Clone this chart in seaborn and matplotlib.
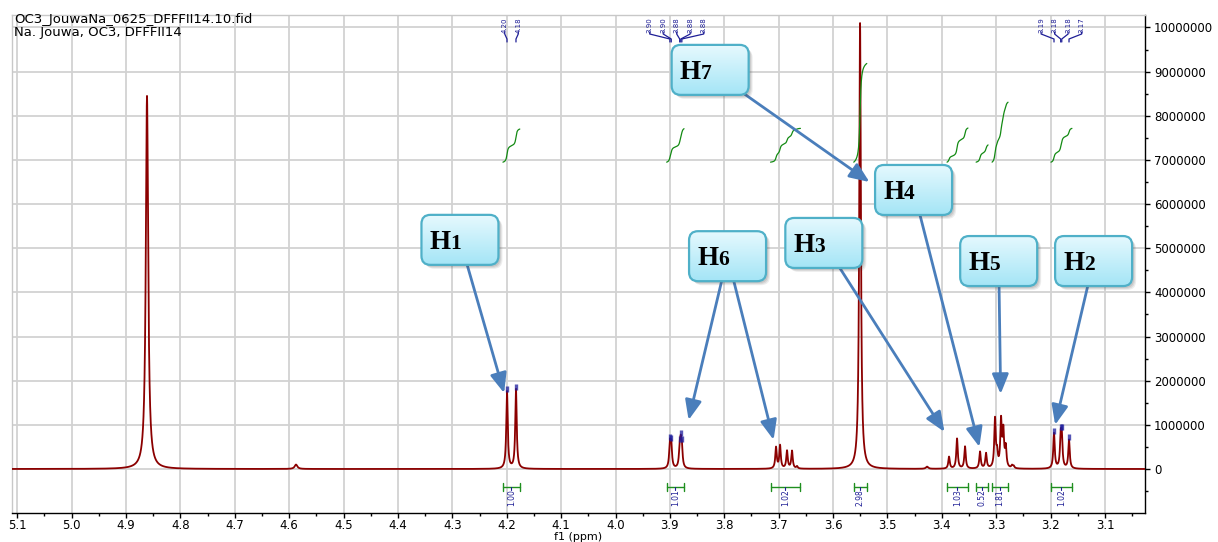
import numpy as np
import pandas as pd
import matplotlib
matplotlib.use("Agg")
import matplotlib.pyplot as plt
import matplotlib.transforms as mtransforms
from matplotlib.colors import LinearSegmentedColormap
from matplotlib.patches import FancyBboxPatch, FancyArrowPatch
from matplotlib.ticker import MultipleLocator, FuncFormatter
import seaborn as sns

# ---------------------------------------------------------------- text
sample_file = "OC3_JouwaNa_0625_DFFFII14.10.fid"
sample_info = "Na. Jouwa, OC3, DFFFII14"
x_label = "f1 (ppm)"

# ---------------------------------------------------------------- resonances
# centre (ppm), height (intensity), half width at half height (ppm)
peak_ppm = [4.8614, 4.5874,
            4.1995, 4.1830,
            3.9000, 3.8975, 3.8820, 3.8800, 3.8780,
            3.7049, 3.6975, 3.6847, 3.6755, 3.6663,
            3.5504,
            3.4273,
            3.3868, 3.3721, 3.3574,
            3.3298, 3.3188,
            3.3023, 3.2985, 3.2912, 3.2870, 3.2825, 3.2710, 3.2680,
            3.1938, 3.1815, 3.1795, 3.1662]
peak_height = [8.45e6, 0.10e6,
               1.75e6, 1.80e6,
               0.53e6, 0.50e6, 0.40e6, 0.46e6, 0.40e6,
               0.48e6, 0.52e6, 0.40e6, 0.40e6, 0.05e6,
               10.1e6,
               0.05e6,
               0.27e6, 0.68e6, 0.50e6,
               0.38e6, 0.34e6,
               1.10e6, 0.30e6, 1.05e6, 0.80e6, 0.45e6, 0.06e6, 0.05e6,
               0.80e6, 0.63e6, 0.63e6, 0.65e6]
peak_hwhm = [0.0026, 0.0030,
             0.0016, 0.0016,
             0.0016, 0.0016, 0.0016, 0.0016, 0.0016,
             0.0016, 0.0016, 0.0016, 0.0016, 0.0016,
             0.0018,
             0.0025,
             0.0016, 0.0016, 0.0016,
             0.0016, 0.0016,
             0.0016, 0.0016, 0.0016, 0.0016, 0.0016, 0.0016, 0.0016,
             0.0016, 0.0016, 0.0016, 0.0016]

# picked peaks, one list per multiplet
pick_groups = [[4.1995, 4.1830],
               [3.9000, 3.8975, 3.8820, 3.8800, 3.8780],
               [3.1938, 3.1815, 3.1795, 3.1662]]

# integration regions and normalised integrals
integral_start = [4.207, 3.906, 3.715, 3.562, 3.3905, 3.337, 3.3077, 3.1994]
integral_end = [4.176, 3.874, 3.660, 3.538, 3.352, 3.315, 3.2783, 3.1608]
integral_value = [1.00, 1.01, 1.02, 2.98, 1.03, 0.52, 1.81, 1.02]

# proton assignments: label, box centre (ppm, intensity), arrow targets
callout_text = ["H1", "H7", "H6", "H3", "H4", "H5", "H2"]
callout_ppm = [4.286, 3.826, 3.794, 3.617, 3.452, 3.2955, 3.121]
callout_int = [5.19e6, 9.04e6, 4.82e6, 5.12e6, 6.32e6, 4.71e6, 4.71e6]
callout_targets = [[(4.2048, 1.72e6)],
                   [(3.5331, 6.50e6)],
                   [(3.8656, 1.11e6), (3.7094, 0.66e6)],
                   [(3.3952, 0.84e6)],
                   [(3.3310, 0.50e6)],
                   [(3.2919, 1.70e6)],
                   [(3.1917, 1.00e6)]]

# ---------------------------------------------------------------- figure
sns.set_theme(style="whitegrid")
plt.rcParams["font.family"] = ["DejaVu Sans"]

W, H = 1218, 542
fig = plt.figure(figsize=(W / 100, H / 100), dpi=100)
ax_l, ax_r, ax_t, ax_b = 12, 1145, 15, 513
ax = fig.add_axes([ax_l / W, 1 - ax_b / H, (ax_r - ax_l) / W, (ax_b - ax_t) / H])
ax.set_facecolor("white")

XLIM = (5.1096, 3.0265)
YLIM = (-0.9966e6, 10.283e6)
xppp = (XLIM[0] - XLIM[1]) / (ax_r - ax_l)     # ppm per pixel
yppp = (YLIM[1] - YLIM[0]) / (ax_b - ax_t)     # intensity per pixel

# ---------------------------------------------------------------- spectrum
ppm = np.linspace(5.12, 3.02, 30000)
intensity = np.zeros_like(ppm)
for c, h, w in zip(peak_ppm, peak_height, peak_hwhm):
    intensity += h / (1.0 + ((ppm - c) / w) ** 2)
spectrum = pd.DataFrame({"ppm": ppm, "intensity": intensity})
sns.lineplot(data=spectrum, x="ppm", y="intensity", ax=ax, color="#8b0000",
             lw=1.3, estimator=None, sort=False, zorder=3)

# ---------------------------------------------------------------- integrals
integral_base = 6.95e6
integral_unit = 0.75e6
bar_y = -0.41e6
navy = "#1e1e96"
green = "#1f8f1f"
for a, b, val in zip(integral_start, integral_end, integral_value):
    m = (ppm <= a) & (ppm >= b)
    seg_x, seg_y = ppm[m], intensity[m]
    cum = np.cumsum(seg_y)
    cum = (cum - cum[0]) / (cum[-1] - cum[0])
    sns.lineplot(x=seg_x, y=integral_base + cum * val * integral_unit, ax=ax,
                 color="#138a13", lw=0.9, estimator=None, sort=False, zorder=3)
    # integration bar with end caps
    ax.plot([a, b], [bar_y, bar_y], color=green, lw=1.0, zorder=3)
    for e in (a, b):
        ax.plot([e, e], [bar_y - 4 * yppp, bar_y + 4 * yppp], color=green, lw=1.0, zorder=3)
    mid = 0.5 * (a + b)
    ax.plot([mid, mid], [bar_y, bar_y - 3 * yppp], color=navy, lw=0.8, zorder=3)
    ax.text(mid, bar_y - 2.5 * yppp, f"{val:.2f}", rotation=90, ha="center", va="top",
            fontsize=5.5, color=navy, zorder=4)

# ---------------------------------------------------------------- peak picking
lab_y = YLIM[1] - 10 * yppp
spacing = 13.5 * xppp
for group in pick_groups:
    n = len(group)
    centre = np.mean(group)
    tops = np.interp(group, ppm[::-1], intensity[::-1])
    ax.plot(group, tops + 2 * yppp, ls="none", marker="|", ms=4.5, mew=2.4,
            color="#1c1c9c", alpha=0.75, zorder=4)
    for i, p in enumerate(group):
        lx = centre + ((n - 1) / 2 - i) * spacing
        ax.text(lx, lab_y, f"{p:.2f}", rotation=90, ha="center", va="center",
                fontsize=5, color=navy, zorder=4, clip_on=False)
        y1 = YLIM[1] - 17 * yppp
        y2 = YLIM[1] - 19 * yppp
        y3 = YLIM[1] - 24 * yppp
        y4 = YLIM[1] - 27 * yppp
        ax.plot([lx, lx, p, p], [y1, y2, y3, y4], color=navy, lw=0.9, zorder=4)

# ---------------------------------------------------------------- callouts
box_w = 77 * xppp
box_h = 50 * yppp
cmap = LinearSegmentedColormap.from_list("callout", ["#e6f9fe", "#a4e5f6"])
grad = np.linspace(0, 1, 128).reshape(-1, 1)
arrow_col = "#4a7ebb"

for label, cx, cy, targets in zip(callout_text, callout_ppm, callout_int, callout_targets):
    for tx, ty in targets:
        arr = FancyArrowPatch((cx, cy), (tx, ty), arrowstyle="-|>,head_length=0.6,head_width=0.25",
                              mutation_scale=20, color=arrow_col, lw=2.0,
                              shrinkA=0, shrinkB=0, zorder=5)
        ax.add_patch(arr)
    x0, y0 = cx - box_w / 2, cy - box_h / 2
    style = f"round,pad=0,rounding_size={9 * xppp}"
    asp = yppp / xppp
    for off, al in ((4, 0.09), (3, 0.11), (2, 0.13)):
        sh = FancyBboxPatch((x0, y0), box_w, box_h, boxstyle=style, mutation_aspect=asp,
                            facecolor="#404040", edgecolor="none", alpha=al,
                            transform=ax.transData + mtransforms.ScaledTranslation(off / 100, -off / 100, fig.dpi_scale_trans),
                            zorder=6)
        ax.add_patch(sh)
    box = FancyBboxPatch((x0, y0), box_w, box_h, boxstyle=style, mutation_aspect=asp,
                         facecolor="none", edgecolor="#4fb0c8", lw=1.6, zorder=8)
    ax.add_patch(box)
    im = ax.imshow(grad, extent=(x0 + box_w, x0, y0, y0 + box_h), aspect="auto",
                   cmap=cmap, origin="upper", zorder=7, interpolation="bilinear")
    im.set_clip_path(box)
    ht = ax.annotate(label[0], xy=(cx + box_w / 2, cy), xycoords="data",
                     xytext=(8, -9), textcoords="offset pixels", ha="left", va="baseline",
                     fontsize=19.5, fontweight="bold", family="Liberation Serif",
                     color="black", zorder=9)
    ax.annotate(label[1:], xy=(1, 0), xycoords=ht, xytext=(0, 1), textcoords="offset pixels",
                ha="left", va="bottom", fontsize=15.5, fontweight="bold",
                family="Liberation Serif", color="black", zorder=9)

# ---------------------------------------------------------------- axes
ax.set_autoscale_on(False)
ax.set_xlim(*XLIM)
ax.set_ylim(*YLIM)
ax.xaxis.set_major_locator(MultipleLocator(0.1))
ax.xaxis.set_minor_locator(MultipleLocator(0.05))
ax.xaxis.set_major_formatter(FuncFormatter(lambda v, _: f"{v:.1f}"))
ax.yaxis.tick_right()
ax.yaxis.set_major_locator(MultipleLocator(1e6))
ax.yaxis.set_minor_locator(MultipleLocator(5e5))
ax.yaxis.set_major_formatter(FuncFormatter(lambda v, _: f"{int(round(v))}"))
ax.tick_params(axis="x", which="major", direction="out", length=3.6, width=1,
               color="black", labelsize=8.5, pad=0.5, bottom=True, labelcolor="black")
ax.tick_params(axis="x", which="minor", direction="out", length=2.2, width=1,
               color="black", bottom=True)
ax.tick_params(axis="y", which="major", direction="out", length=3.6, width=1,
               color="black", labelsize=8.5, right=True, left=False, pad=3,
               labelcolor="black", labelright=True, labelleft=False)
ax.tick_params(axis="y", which="minor", direction="out", length=2.2, width=1,
               color="black", right=True, left=False)
ax.grid(True, which="major", color="#d2d2d2", lw=1.3)
ax.grid(False, which="minor")
ax.set_axisbelow(True)
for side in ("left", "top"):
    ax.spines[side].set_color("#c8c8c8")
    ax.spines[side].set_linewidth(1.0)
for side in ("right", "bottom"):
    ax.spines[side].set_color("black")
    ax.spines[side].set_linewidth(1.0)
ax.set_xlabel(x_label, fontsize=8, labelpad=0.5, color="black")
ax.set_ylabel("")

fig.text(14 / W, 1 - 13.5 / H, sample_file, ha="left", va="top", fontsize=9.5, color="black")
fig.text(14 / W, 1 - 26 / H, sample_info, ha="left", va="top", fontsize=9.5, color="black")

fig.savefig("out.png", dpi=100, facecolor="white")
